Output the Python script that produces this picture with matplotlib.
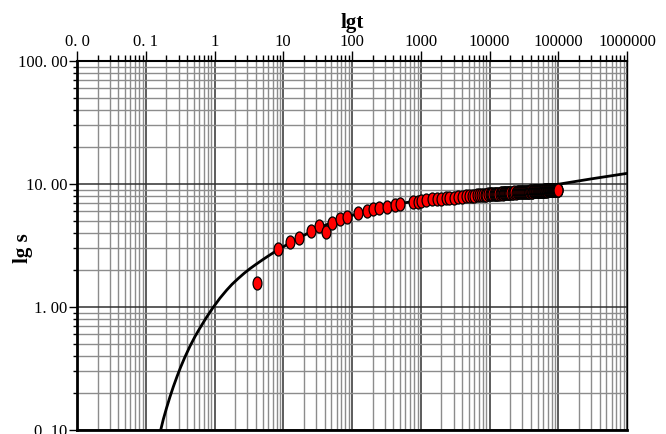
import numpy as np
import matplotlib
matplotlib.use("Agg")
import matplotlib.pyplot as plt
from matplotlib.path import Path
from matplotlib.transforms import Affine2D
from matplotlib.ticker import FixedLocator, FixedFormatter, LogLocator, NullFormatter

# observed drawdown data (t, s)
t_early = [4.2, 8.5, 12.5, 16.9, 25.3, 33.4, 41.9, 50.6, 66.9, 83.6, 124, 167, 200, 249,
           326, 422, 499, 764, 921, 1000, 1200, 1450, 1700, 2000, 2300, 2600]
s_early = [1.56, 2.94, 3.40, 3.62, 4.15, 4.58, 4.10, 4.79, 5.16, 5.42, 5.85, 6.07, 6.22, 6.34,
           6.54, 6.75, 6.87, 7.09, 7.18, 7.31, 7.40, 7.50, 7.55, 7.62, 7.66, 7.72]

t_mid = [3000, 3500, 4000, 4500, 5000, 5500, 6000, 6500, 7000, 7500, 8000, 8500, 9000, 9500,
         10000, 10500, 11000, 11500, 12000, 12500, 13000, 13500, 14000, 14500, 15000,
         15500, 16000, 16500, 17000, 17500, 18000, 18500, 19000, 19500, 20000,
         21000, 22000, 23000, 24000, 25000, 26000, 27000, 28000, 29000, 30000]
s_mid = [7.76, 7.83, 7.86, 7.93, 7.95, 8.01, 8.03, 8.08, 8.09, 8.14, 8.14, 8.19, 8.19, 8.23,
         8.24, 8.27, 8.28, 8.30, 8.29, 8.33, 8.35, 8.34, 8.33, 8.38, 8.39,
         8.37, 8.38, 8.42, 8.43, 8.41, 8.42, 8.46, 8.47, 8.45, 8.46,
         8.50, 8.49, 8.53, 8.52, 8.56, 8.55, 8.59, 8.57, 8.61, 8.59]

t_late = [31000, 32000, 33000, 34000, 35000, 36000, 37000, 38000, 39000, 40000,
          41000, 42000, 43000, 44000, 45000, 46000, 47000, 48000, 49000, 50000,
          51000, 52000, 53000, 54000, 55000, 56000, 57000, 58000, 59000, 60000,
          61000, 62000, 63000, 64000, 65000, 66000, 67000, 68000, 69000, 70000,
          71000, 72000, 73000, 74000, 75000, 76000, 77000, 78000, 79000, 80000,
          81000, 82000, 83000, 84000, 85000, 86000, 87000, 88000, 89000, 90000,
          91000, 92000, 93000, 94000, 95000, 96000, 97000, 98000, 99000, 100000]
s_late = [8.63, 8.64, 8.60, 8.62, 8.67, 8.68, 8.64, 8.66, 8.71, 8.72,
          8.67, 8.69, 8.74, 8.75, 8.70, 8.72, 8.77, 8.78, 8.73, 8.75,
          8.79, 8.80, 8.76, 8.78, 8.82, 8.83, 8.78, 8.80, 8.84, 8.85,
          8.80, 8.82, 8.86, 8.87, 8.82, 8.84, 8.88, 8.89, 8.84, 8.86,
          8.90, 8.91, 8.86, 8.88, 8.92, 8.93, 8.88, 8.90, 8.94, 8.95,
          8.89, 8.91, 8.95, 8.96, 8.91, 8.93, 8.97, 8.98, 8.92, 8.95,
          8.98, 8.99, 8.94, 8.96, 9.00, 9.01, 8.95, 8.97, 8.99, 9.00]

# fitted type curve
t_fit = [0.165, 0.18, 0.20, 0.225, 0.252, 0.285, 0.32, 0.37, 0.44, 0.52, 0.60, 0.75, 0.94,
         1.2, 1.5, 1.8, 2.2, 2.7, 3.28, 4.0, 5.0, 6.0, 7.16, 8.5, 10, 12.5, 15, 20, 25, 35,
         50, 70, 100, 150, 200, 300, 500, 700, 1000, 2000, 3000, 5000, 10000, 20000, 30000,
         50000, 100000, 300000, 1000000]
s_fit = [0.10, 0.122, 0.150, 0.186, 0.225, 0.272, 0.322, 0.39, 0.48, 0.575, 0.66, 0.81, 0.98,
         1.18, 1.37, 1.53, 1.70, 1.88, 2.05, 2.22, 2.42, 2.59, 2.76, 2.93, 3.08, 3.33, 3.52,
         3.83, 4.07, 4.45, 4.85, 5.22, 5.55, 5.93, 6.18, 6.52, 6.92, 7.15, 7.35, 7.75, 7.98,
         8.30, 8.72, 9.15, 9.35, 9.62, 9.95, 11.0, 12.2]

x_ticks = [0.01, 0.1, 1, 10, 100, 1000, 10000, 100000, 1000000]
x_labels = ["0. 0", "0. 1", "1", "10", "100", "1000", "10000", "100000", "1000000"]
y_ticks = [0.1, 1, 10, 100]
y_labels = ["0. 10", "1. 00", "10. 00", "100. 00"]

t_obs = t_early + t_mid + t_late
s_obs = s_early + s_mid + s_late

plt.rcParams['font.family'] = ['Liberation Serif', 'DejaVu Serif']

fig = plt.figure(figsize=(6.66, 4.34), dpi=100)
ax = fig.add_axes([77/666, 1 - 430/434, 550/666, 369/434])
ax.set_xscale("log")
ax.set_yscale("log")
ax.set_xlim(0.01, 1000000)
ax.set_ylim(0.1, 100)

ax.grid(True, which="minor", color="#8c8c8c", lw=1.0)
ax.grid(True, which="major", color="#303030", lw=1.1)
ax.set_axisbelow(True)

ax.xaxis.set_major_locator(FixedLocator(x_ticks))
ax.xaxis.set_major_formatter(FixedFormatter(x_labels))
ax.xaxis.set_minor_locator(LogLocator(base=10, subs=np.arange(2, 10), numticks=20))
ax.xaxis.set_minor_formatter(NullFormatter())
ax.yaxis.set_major_locator(FixedLocator(y_ticks))
ax.yaxis.set_major_formatter(FixedFormatter(y_labels))
ax.yaxis.set_minor_locator(LogLocator(base=10, subs=np.arange(2, 10), numticks=20))
ax.yaxis.set_minor_formatter(NullFormatter())

ax.xaxis.tick_top()
ax.xaxis.set_label_position("top")
ax.tick_params(axis="x", which="major", length=7, width=1, direction="out", labelsize=12, pad=1)
ax.tick_params(axis="x", which="minor", length=4, width=1, direction="out")
ax.tick_params(axis="y", which="major", length=6, width=1, direction="out", labelsize=12, pad=1)
ax.tick_params(axis="y", which="minor", length=3, width=1, direction="out")

for side in ["left", "bottom"]:
    ax.spines[side].set_linewidth(2)
ax.spines["top"].set_linewidth(1.5)
ax.spines["right"].set_linewidth(1)

ax.plot(t_fit, s_fit, color="black", lw=2, zorder=3)

ellipse = Path.unit_circle().transformed(Affine2D().scale(0.68, 1.0))
ax.plot(t_obs, s_obs, linestyle="none", marker=ellipse, markersize=9.4,
        markerfacecolor="red", markeredgecolor="black", markeredgewidth=0.9, zorder=4)

ax.set_xlabel("lgt", fontsize=15, fontweight="bold", labelpad=4)
fig.text(23/666, 1 - 248/434, "lg s", rotation=90, fontsize=15, fontweight="bold",
         ha="center", va="center")

fig.savefig("out.png", dpi=100)
